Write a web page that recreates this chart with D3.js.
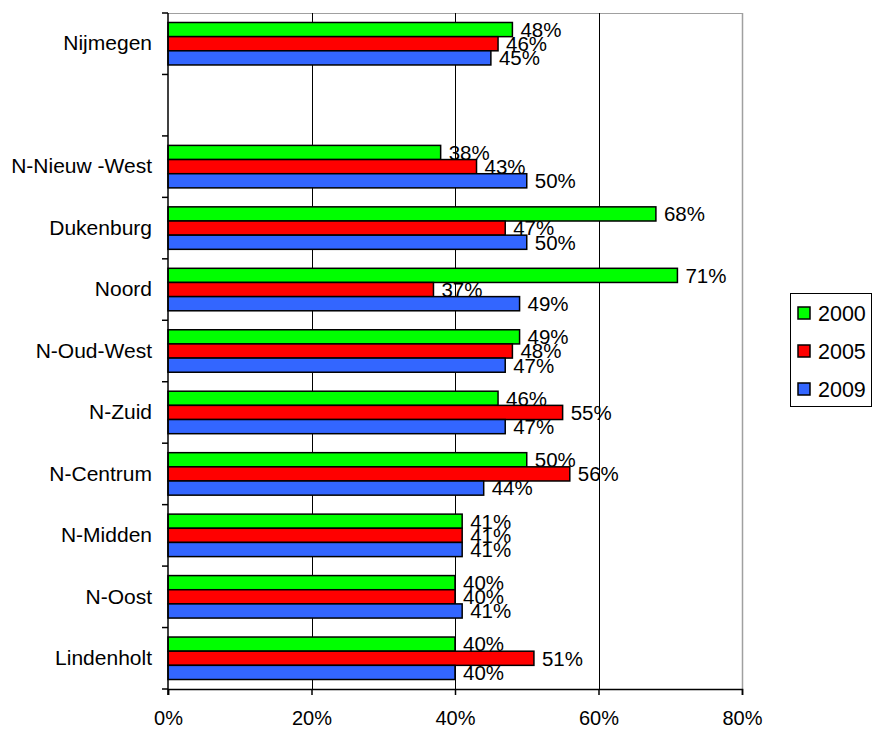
<!DOCTYPE html>
<html>
<head>
<meta charset="utf-8">
<script src="https://cdn.jsdelivr.net/npm/d3@7"></script>
<style>
  html, body { margin: 0; padding: 0; background: #fff; }
  svg { display: block; }
  text { font-family: Arial, "Liberation Sans", sans-serif; fill: #000; }
</style>
</head>
<body>
<svg id="chart" width="872" height="729"></svg>
<script>
// ---- data ----
const categories = ["Nijmegen", "", "N-Nieuw -West", "Dukenburg", "Noord", "N-Oud-West", "N-Zuid", "N-Centrum", "N-Midden", "N-Oost", "Lindenholt"];
const seriesNames = ["2000", "2005", "2009"];
const values2000 = [48, null, 38, 68, 71, 49, 46, 50, 41, 40, 40];
const values2005 = [46, null, 43, 47, 37, 48, 55, 56, 41, 40, 51];
const values2009 = [45, null, 50, 50, 49, 47, 47, 44, 41, 41, 40];
const xTicks = [0, 20, 40, 60, 80];
const seriesColors = ["#00FF00", "#FF0000", "#3366FF"];

const seriesValues = [values2000, values2005, values2009];

// ---- layout ----
const svg = d3.select("#chart");
const plot = { left: 168, right: 742, top: 13, bottom: 689 };

const x = d3.scaleLinear().domain([0, 80]).range([plot.left, plot.right]);
const keys = categories.map((c, i) => i);
const y = d3.scaleBand().domain(keys).range([plot.top, plot.bottom]).padding(0);
const ySub = d3.scaleBand().domain(seriesNames).range([0, y.bandwidth()]).paddingInner(0).paddingOuter(0.67);

// plot border (top and right grey)
svg.append("line").attr("x1", plot.left).attr("x2", plot.right).attr("y1", plot.top + 0.5).attr("y2", plot.top + 0.5)
  .attr("stroke", "#a0a0a0").attr("stroke-width", 1);
svg.append("line").attr("x1", x(80) + 0.5).attr("x2", x(80) + 0.5).attr("y1", plot.top).attr("y2", plot.bottom)
  .attr("stroke", "#a0a0a0").attr("stroke-width", 1.5);

// vertical gridlines
svg.append("g").selectAll("line").data(xTicks.filter(t => t > 0 && t < 80)).join("line")
  .attr("x1", d => Math.round(x(d)) + 0.5).attr("x2", d => Math.round(x(d)) + 0.5)
  .attr("y1", plot.top).attr("y2", plot.bottom)
  .attr("stroke", "#000").attr("stroke-width", 1);

// bars
const rows = [];
categories.forEach((c, i) => {
  seriesNames.forEach((s, j) => {
    const v = seriesValues[j][i];
    if (v != null) rows.push({ i, s, j, v });
  });
});

svg.append("g").selectAll("rect").data(rows).join("rect")
  .attr("x", x(0))
  .attr("y", d => y(d.i) + ySub(d.s))
  .attr("width", d => x(d.v) - x(0))
  .attr("height", ySub.bandwidth())
  .attr("fill", d => seriesColors[d.j])
  .attr("stroke", "#000")
  .attr("stroke-width", 1.5);

// data labels
svg.append("g").selectAll("text").data(rows).join("text")
  .attr("x", d => x(d.v) + 8)
  .attr("y", d => y(d.i) + ySub(d.s) + ySub.bandwidth() / 2)
  .attr("dy", "0.36em")
  .attr("font-size", 20.5)
  .text(d => d.v + "%");

// x axis
const xAxis = d3.axisBottom(x).tickValues(xTicks).tickFormat(d => d + "%").tickSize(6).tickPadding(16);
const gx = svg.append("g").attr("transform", `translate(0,${plot.bottom})`).call(xAxis);
gx.select(".domain").attr("stroke", "#000").attr("stroke-width", 1.5);
gx.selectAll(".tick line").attr("stroke", "#000").attr("stroke-width", 1.5);
gx.selectAll(".tick text").attr("font-size", 20).attr("font-family", "Arial, 'Liberation Sans', sans-serif").attr("fill", "#000");

// y axis
const yAxis = d3.axisLeft(y).tickFormat(i => categories[i]).tickSize(0).tickPadding(16);
const gy = svg.append("g").attr("transform", `translate(${plot.left},0)`).call(yAxis);
gy.select(".domain").remove();
gy.selectAll(".tick text").attr("font-size", 21).attr("font-family", "Arial, 'Liberation Sans', sans-serif").attr("fill", "#000");
// y axis line and boundary ticks
svg.append("line").attr("x1", plot.left).attr("x2", plot.left).attr("y1", plot.top).attr("y2", plot.bottom + 6)
  .attr("stroke", "#000").attr("stroke-width", 1.5);
const bounds = keys.map(k => y(k)).concat([plot.bottom]);
svg.append("g").selectAll("line").data(bounds).join("line")
  .attr("x1", plot.left - 6).attr("x2", plot.left)
  .attr("y1", d => d).attr("y2", d => d)
  .attr("stroke", "#000").attr("stroke-width", 1.5);

// legend
const legend = svg.append("g");
legend.append("rect").attr("x", 790.5).attr("y", 293.5).attr("width", 81).attr("height", 113)
  .attr("fill", "#fff").attr("stroke", "#000").attr("stroke-width", 1);
const legY = d3.scalePoint().domain(seriesNames).range([313, 389]);
const li = legend.selectAll("g.item").data(seriesNames).join("g").attr("class", "item");
li.append("rect").attr("x", 798).attr("y", d => legY(d) - 6).attr("width", 12).attr("height", 12)
  .attr("fill", (d, j) => seriesColors[j]).attr("stroke", "#000").attr("stroke-width", 1.5);
li.append("text").attr("x", 818).attr("y", d => legY(d)).attr("dy", "0.36em").attr("font-size", 21.5).text(d => d);
</script>
</body>
</html>
